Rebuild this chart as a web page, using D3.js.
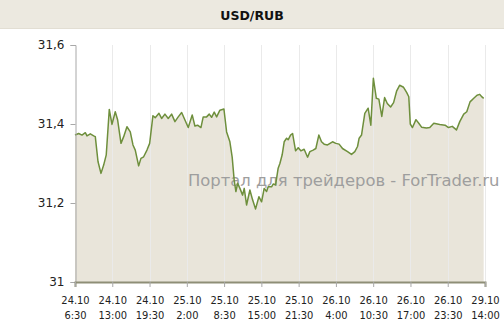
<!DOCTYPE html>
<html><head><meta charset="utf-8">
<script src="https://cdn.jsdelivr.net/npm/d3@7"></script>
<style>html,body{margin:0;padding:0;background:#fff;}svg{display:block;}</style>
</head><body>
<script>
// hours elapsed since 24.10 6:30 (trading time)
const hours = [0,0.64,1.22,1.80,2.09,2.67,3.26,3.54,4.01,4.53,5.00,5.45,5.98,6.45,7.02,7.44,8.02,8.49,9.06,9.64,
10.11,10.51,11.10,11.50,11.97,12.55,13.02,13.59,13.99,14.64,15.11,15.68,16.26,16.85,17.43,18.00,18.60,19.17,19.75,20.44,
20.91,21.38,21.96,22.36,22.95,23.41,23.82,24.28,24.70,25.27,25.97,26.44,27.01,27.41,27.76,28.06,28.36,28.76,29.23,29.51,
29.92,30.50,30.97,31.49,32.07,32.54,32.99,33.41,33.69,34.28,34.56,34.98,35.43,35.73,36.13,36.48,36.90,37.17,37.59,37.94,
38.47,38.92,39.39,39.96,40.56,40.96,41.53,42.00,42.52,42.99,43.45,44.04,44.91,45.49,46.06,46.65,47.53,48.22,48.80,49.27,
49.55,49.97,50.14,50.54,51.12,51.59,52.03,52.55,52.99,53.50,53.99,54.46,55.04,55.56,56.08,56.61,57.30,57.83,58.21,58.47,
58.85,59.46,59.95,60.44,61.29,61.87,62.57,63.61,64.54,65.13,65.79,66.52,67.10,67.79,68.32,68.89,69.54,70.11,70.58,70.87,71.27];
const rates = [31.372,31.376,31.372,31.378,31.370,31.375,31.370,31.368,31.305,31.275,31.296,31.322,31.437,31.399,31.431,31.410,31.351,31.368,31.393,31.380,
31.347,31.334,31.294,31.313,31.317,31.334,31.351,31.421,31.416,31.427,31.414,31.425,31.414,31.425,31.406,31.418,31.429,31.410,31.391,31.423,
31.395,31.397,31.391,31.418,31.418,31.425,31.417,31.430,31.418,31.435,31.438,31.380,31.355,31.316,31.258,31.229,31.250,31.237,31.220,31.237,
31.195,31.233,31.208,31.185,31.216,31.203,31.237,31.229,31.241,31.241,31.248,31.246,31.288,31.300,31.322,31.355,31.364,31.360,31.372,31.376,
31.332,31.340,31.332,31.336,31.316,31.330,31.334,31.338,31.372,31.355,31.349,31.347,31.355,31.351,31.349,31.338,31.330,31.323,31.330,31.343,
31.364,31.372,31.389,31.427,31.440,31.397,31.516,31.465,31.463,31.419,31.467,31.452,31.443,31.454,31.483,31.498,31.493,31.480,31.469,31.400,
31.391,31.411,31.402,31.392,31.390,31.391,31.402,31.399,31.397,31.391,31.394,31.385,31.406,31.425,31.431,31.456,31.465,31.473,31.475,31.470,31.465];
const tickDates = ["24.10","24.10","24.10","25.10","25.10","25.10","25.10","26.10","26.10","26.10","26.10","29.10"];
const tickTimes = ["6:30","13:00","19:30","2:00","8:30","15:00","21:30","4:00","10:30","17:00","23:30","14:00"];
const yTicks = [31, 31.2, 31.4, 31.6];
const title = "USD/RUB";
const watermark = "Портал для трейдеров - ForTrader.ru";

const W = 504, H = 336;
const margin = {left: 75, right: 19, top: 45, bottom: 54};
const svg = d3.select("body").append("svg").attr("width", W).attr("height", H);

// title band
svg.append("rect").attr("x",0).attr("y",0).attr("width",W).attr("height",29).attr("fill","#ECE9E0");
svg.append("line").attr("x1",0).attr("x2",W).attr("y1",28.5).attr("y2",28.5).attr("stroke","#E2DED3");
svg.append("text").attr("x",W/2).attr("y",20).attr("text-anchor","middle")
  .attr("font-family","DejaVu Sans").attr("font-weight","bold").attr("font-size",12.5).attr("fill","#111").text(title);

const x = d3.scaleLinear().domain([0, 71.5]).range([margin.left, W - margin.right]);
const y = d3.scaleLinear().domain([31, 31.6]).range([H - margin.bottom, margin.top]);
const data = hours.map((h,i)=>({h, v: rates[i]}));
const tickHours = tickTimes.map((t,i)=> i*6.5);

// area
svg.append("path").datum(data)
  .attr("d", d3.area().x(d=>x(d.h)).y0(y(31)).y1(d=>y(d.v)))
  .attr("fill","#E9E5DA");

// vertical gridlines
svg.append("g").selectAll("line").data(tickHours.slice(1)).join("line")
  .attr("x1",d=>Math.round(x(d))+0.5).attr("x2",d=>Math.round(x(d))+0.5)
  .attr("y1",y(31.6)).attr("y2",y(31))
  .attr("stroke","#EAEAEA").attr("stroke-width",1);

// watermark
svg.append("text").attr("x",188).attr("y",186)
  .attr("font-family","DejaVu Sans").attr("font-size",16.4).attr("fill","#9E9E9E")
  .text(watermark);

// line
svg.append("path").datum(data)
  .attr("d", d3.line().x(d=>x(d.h)).y(d=>y(d.v)))
  .attr("fill","none").attr("stroke","#6E8F3C").attr("stroke-width",1.5).attr("stroke-linejoin","round");

// y axis
const yAxis = svg.append("g").attr("transform",`translate(${margin.left+0.5},0)`)
  .call(d3.axisLeft(y).tickValues(yTicks).tickSize(5).tickPadding(6)
    .tickFormat(d=> d===31 ? "31" : d3.format(".1f")(d).replace(".",",")));
yAxis.select(".domain").attr("stroke","#A8A8A8");
yAxis.selectAll(".tick line").attr("stroke","#A8A8A8");
yAxis.selectAll("text").attr("font-family","DejaVu Sans").attr("font-size",12).attr("fill","#222");

// x axis
const xAxis = svg.append("g").attr("transform",`translate(0,${y(31)})`)
  .call(d3.axisBottom(x).tickValues(tickHours).tickSize(5).tickFormat(""));
xAxis.select(".domain").attr("stroke","#8E8E76").attr("stroke-width",2);
xAxis.selectAll(".tick line").attr("stroke","#A8A8A8");
const lab = xAxis.selectAll(".tick").append("text")
  .attr("font-family","DejaVu Sans Condensed, DejaVu Sans").attr("font-size",11).attr("fill","#222")
  .attr("text-anchor","middle");
lab.append("tspan").attr("x",0).attr("y",22).text((d,i)=>tickDates[i]);
lab.append("tspan").attr("x",0).attr("y",37).text((d,i)=>tickTimes[i]);
</script>
</body></html>
